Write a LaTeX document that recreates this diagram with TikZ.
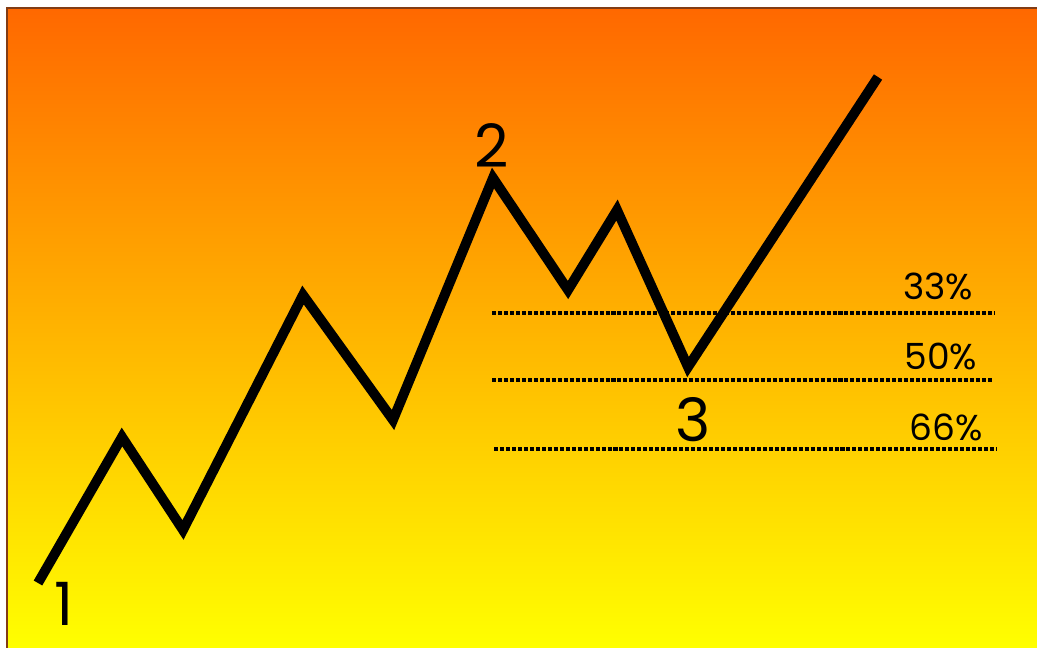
\documentclass[tikz,border=0pt]{standalone}
\usepackage{fontspec}
\setmainfont{Poppins}
\usepackage{xcolor}
\usepackage{tikz}

\definecolor{topOrange}{RGB}{255,104,0}
\definecolor{botYellow}{RGB}{255,255,0}
\definecolor{frameBrown}{RGB}{130,60,20}

\begin{document}
\begin{tikzpicture}[x={(0.02cm,0cm)},y={(0cm,-0.02cm)},every node/.style={inner sep=0pt, outer sep=0pt},
  wave/.style={line width=5.6pt, line join=miter},
  level/.style={line width=2.3pt, dash pattern=on 2.3pt off 1.1pt},
  wavelabel/.style={font=\fontsize{34}{34}\selectfont},
  pctlabel/.style={font=\fontsize{20.5}{20.5}\selectfont}]
\useasboundingbox (0,0) rectangle (1037,648);
\shade[top color=topOrange, bottom color=botYellow] (7,8) rectangle (1037,648);
\draw[color=frameBrown,line width=1.2pt] (7,648) -- (7,8) -- (1037,8);
% price path
\coordinate (p1) at (38,583);
\coordinate (a1) at (122,437);
\coordinate (b1) at (183,530);
\coordinate (a2) at (303,295);
\coordinate (b2) at (393,420);
\coordinate (p2) at (493,178);
\coordinate (b3) at (568,290);
\coordinate (a3) at (617,210);
\coordinate (p3) at (688,367);
\coordinate (pend) at (878,77);
\draw[wave] (p1) -- (a1) -- (b1) -- (a2) -- (b2) -- (p2) -- (b3) -- (a3) -- (p3) -- (pend);
% retracement levels
\coordinate (l33a) at (492,313); \coordinate (l33b) at (995,313);
\coordinate (l50a) at (492,380); \coordinate (l50b) at (993,380);
\coordinate (l66a) at (494,449); \coordinate (l66b) at (997,449);
\draw[level] (l33a) -- (l33b);
\draw[level] (l50a) -- (l50b);
\draw[level] (l66a) -- (l66b);
\node[pctlabel] (t33) at (938,286) {33\%};
\node[pctlabel] (t50) at (941,356) {50\%};
\node[pctlabel] (t66) at (946,427) {66\%};
% wave numbers
\node[wavelabel] (n1) at (64,604) {1};
\node[wavelabel] (n2) at (492,146) {2};
\node[wavelabel] (n3) at (693,420) {3};
\end{tikzpicture}
\end{document}
